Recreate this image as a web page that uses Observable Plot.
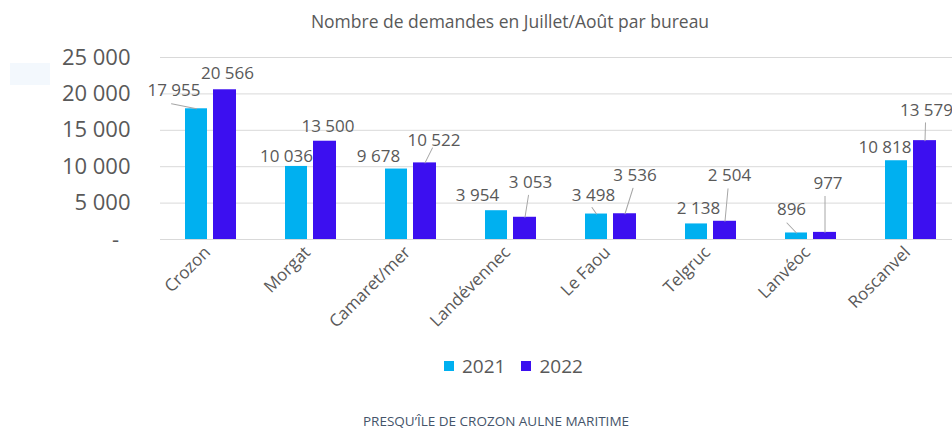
<!DOCTYPE html>
<html><head><meta charset="utf-8">
<script src="https://cdn.jsdelivr.net/npm/d3@7"></script>
<script src="https://cdn.jsdelivr.net/npm/@observablehq/plot@0.6"></script>
<style>
body{margin:0;background:#fff;font-family:"Open Sans",sans-serif;}
#wrap{position:relative;width:952px;height:432px;overflow:hidden;background:#fff;}
#title{position:absolute;top:9px;left:0;width:1020px;text-align:center;font-size:17.5px;color:#595959;}
#chart{position:absolute;top:40px;left:0;}
#ghost{position:absolute;left:10px;top:63px;width:40px;height:22px;background:#f3f8fd;}
#legend{position:absolute;top:353px;left:444px;font-size:19px;color:#595959;display:flex;align-items:center;}
#legend span.sw{display:inline-block;width:10px;height:10px;margin-right:8px;}
#legend span.item{display:flex;align-items:center;margin-right:16px;}
#footer{position:absolute;top:413px;left:0;width:992px;text-align:center;font-size:13.5px;line-height:17px;color:#44546a;}
</style></head>
<body>
<div id="wrap">
  <div id="ghost"></div>
  <div id="title">Nombre de demandes en Juillet/Août par bureau</div>
  <div id="chart"></div>
  <div id="legend"></div>
  <div id="footer">PRESQU’ÎLE DE CROZON AULNE MARITIME</div>
</div>
<script>
const categories = ["Crozon","Morgat","Camaret/mer","Landévennec","Le Faou","Telgruc","Lanvéoc","Roscanvel"];
const years = ["2021","2022"];
const values2021 = [17955,10036,9678,3954,3498,2138,896,10818];
const values2022 = [20566,13500,10522,3053,3536,2504,977,13579];
const yTicks = [0,5000,10000,15000,20000,25000];
const colors = ["#00b0f0","#3c0ff0"];

// label placement offsets (px, relative to top-centre of each bar)
const labelDx2021 = [-22.5,-10,-18,-19,-3,2,-5,-11.5];
const labelDy2021 = [-18,-10,-12.5,-15,-18.5,-15.5,-23.5,-13];
const labelDx2022 = [2.5,3,9,5.5,10,4.5,3,1.5];
const labelDy2022 = [-16,-15,-22,-35,-38,-46,-49,-30];
// leader line end offsets (px, relative to top-centre of bar), null = none
const leader2021 = [[-25,-5],null,null,null,[-4.5,-6.5],null,[-9.5,-10],null];
const leader2022 = [null,null,[7.5,-15],[3.5,-22],[8,-25.5],[3,-32.5],[0,-36],[0.5,-18]];

const fmtLocale = d3.formatLocale({decimal:",", thousands:"\u00a0", grouping:[3], currency:["","€"]});
const fmt = fmtLocale.format(",");

const series = [
  {year:"2021", values:values2021, color:colors[0], off:-14, insetLeft:25, insetRight:53, ldx:labelDx2021, ldy:labelDy2021, leaders:leader2021},
  {year:"2022", values:values2022, color:colors[1], off:14.5, insetLeft:53, insetRight:24, ldx:labelDx2022, ldy:labelDy2022, leaders:leader2022}
];

const labelColor = "#595959";
const marks = [
  Plot.gridY({ticks:yTicks, stroke:"#d9d9d9", strokeOpacity:1}),
  Plot.ruleY([0], {stroke:"#d9d9d9"})
];

for (const s of series) {
  const data = categories.map((c,i)=>({cat:c, v:s.values[i]}));
  marks.push(Plot.barY(data, {x:"cat", y:"v", fill:s.color, insetLeft:s.insetLeft, insetRight:s.insetRight}));
}
const spike = {draw(context, l) { context.moveTo(0,0); context.lineTo(0,-l); }};
for (const s of series) {
  categories.forEach((c,i)=>{
    const d = {cat:c, v:s.values[i]};
    const L = s.leaders[i];
    if (L) {
      const len = Math.hypot(L[0], L[1]);
      const rot = Math.atan2(L[0], -L[1]) * 180 / Math.PI;
      marks.push(Plot.vector([d], {x:"cat", y:"v", dx:s.off, length:len, rotate:rot, anchor:"start", shape:spike, stroke:"#a6a6a6", strokeWidth:1}));
    }
    marks.push(Plot.text([d], {x:"cat", y:"v", text:(d)=>fmt(d.v), dx:s.off + s.ldx[i], dy:s.ldy[i], fontSize:17, fill:labelColor}));
  });
}

marks.push(Plot.axisY({ticks:yTicks, tickSize:0, tickPadding:30, fontSize:22, fill:labelColor,
  tickFormat:(d)=> d===0 ? "-\u00a0\u00a0" : fmt(d)}));
marks.push(Plot.axisX({tickRotate:-45, tickSize:0, tickPadding:10, fontSize:17, fill:labelColor, dx:-3}));

const chart = Plot.plot({
  width:952, height:300,
  marginTop:17, marginBottom:101, marginLeft:160, marginRight:0,
  style:{fontFamily:"'Open Sans', sans-serif", color:labelColor, background:"transparent", overflow:"visible"},
  x:{domain:categories, range:[160,960], padding:0, label:null},
  y:{domain:[0,25000], label:null},
  marks
});
document.getElementById("chart").appendChild(chart);

const legend = document.getElementById("legend");
years.forEach((y,i)=>{
  const item = document.createElement("span");
  item.className = "item";
  const sw = document.createElement("span");
  sw.className = "sw"; sw.style.background = colors[i];
  item.appendChild(sw);
  item.appendChild(document.createTextNode(y));
  legend.appendChild(item);
});
</script>
</body></html>
